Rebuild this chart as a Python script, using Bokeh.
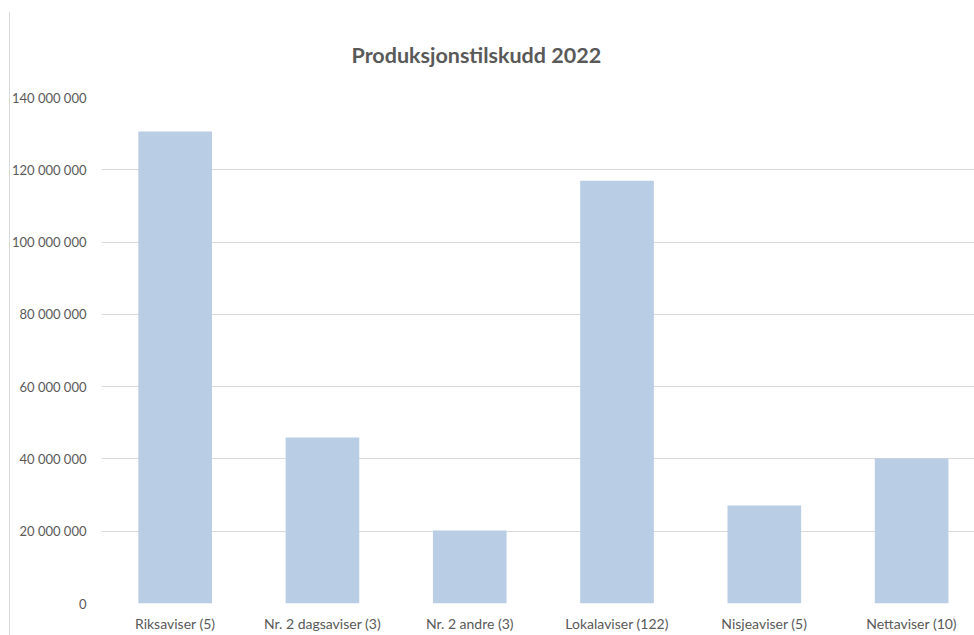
import numpy as np
from bokeh.plotting import figure
from bokeh.models import Range1d, SingleIntervalTicker, CustomJSTickFormatter, FixedTicker, Title
from bokeh.embed import file_html
from bokeh.resources import INLINE

categories = ["Riksaviser (5)", "Nr. 2 dagsaviser (3)", "Nr. 2 andre (3)",
              "Lokalaviser (122)", "Nisjeaviser (5)", "Nettaviser (10)"]
values = [130600000, 45900000, 20200000, 117000000, 27100000, 40100000]
title_text = "Produksjonstilskudd 2022"

FONT = "Lato"
GREY = "#595959"

xs = np.arange(len(categories)) + 0.5

p = figure(width=974, height=635, output_backend="svg", toolbar_location=None,
           x_range=Range1d(0, len(categories) - 0.073), y_range=Range1d(0, 140000000),
           min_border_left=101, min_border_right=0, min_border_top=97, min_border_bottom=32)
p.border_fill_color = None
p.background_fill_color = "white"
p.styles = {
    "background-color": "white",
    "background-image": "linear-gradient(#d9d9d9, #d9d9d9)",
    "background-repeat": "no-repeat",
    "background-size": "1px calc(100% - 12px)",
    "background-position": "9px 12px",
}
p.outline_line_color = None

t = Title(text=title_text, align="left", offset=250, text_font=FONT,
          text_font_size="21.5px", text_font_style="bold", text_color=GREY, standoff=59)
p.add_layout(t, "above")

p.vbar(x=xs, top=values, width=0.5, fill_color="#B9CDE5", line_color=None)

p.xaxis.ticker = FixedTicker(ticks=list(xs))
p.xaxis.major_label_overrides = {float(x): c for x, c in zip(xs, categories)}
p.xaxis.axis_line_color = None
p.xaxis.major_tick_line_color = None
p.xaxis.major_tick_out = 0
p.xaxis.major_tick_in = 0
p.xaxis.minor_tick_line_color = None
p.xaxis.minor_tick_out = 0
p.xaxis.major_label_standoff = 11
p.xaxis.major_label_text_font = FONT
p.xaxis.major_label_text_font_size = "14px"
p.xaxis.major_label_text_color = GREY
p.xgrid.grid_line_color = None

p.yaxis.ticker = SingleIntervalTicker(interval=20000000)
p.yaxis.formatter = CustomJSTickFormatter(code="""
return Math.round(tick).toString().replace(/\\B(?=(\\d{3})+(?!\\d))/g, " ");
""")
p.yaxis.axis_line_color = None
p.yaxis.major_tick_line_color = None
p.yaxis.major_tick_out = 0
p.yaxis.major_tick_in = 0
p.yaxis.minor_tick_line_color = None
p.yaxis.minor_tick_out = 0
p.yaxis.major_label_standoff = 15
p.yaxis.major_label_text_font = FONT
p.yaxis.major_label_text_font_size = "13px"
p.yaxis.major_label_text_color = GREY
p.ygrid.grid_line_color = "#d9d9d9"
p.ygrid.ticker = SingleIntervalTicker(interval=20000000)

open("out.html", "w").write(file_html(p, INLINE))
